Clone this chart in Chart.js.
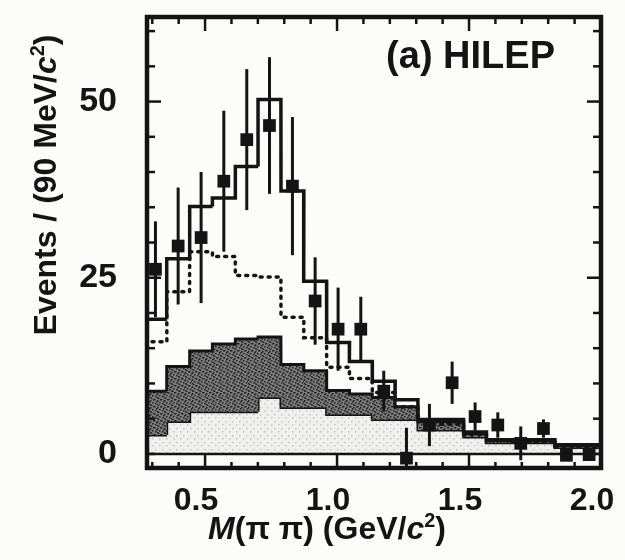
<!DOCTYPE html>
<html>
<head>
<meta charset="utf-8">
<script src="https://cdn.jsdelivr.net/npm/chart.js@4.4.1/dist/chart.umd.min.js"></script>
<style>
  html, body { margin: 0; padding: 0; background: #fcfcfb; }
</style>
</head>
<body>
<canvas id="hilep" width="625" height="560"></canvas>
<script>
// M(pi pi) bin centres, GeV/c^2
const binCentres = [0.312, 0.398, 0.485, 0.571, 0.658, 0.744, 0.831, 0.917, 1.004, 1.090,
                    1.177, 1.263, 1.350, 1.436, 1.523, 1.609, 1.696, 1.782, 1.869, 1.955];
const binHalfWidth = 0.0433;

// measured events (squares) and their errors
const dataValues = [26.2, 29.5, 30.7, 38.7, 44.6, 46.6, 38.0, 21.7, 17.7, 17.7,
                    8.9, -0.6, 4.1, 10.1, 5.3, 4.1, 1.5, 3.6, -0.2, -0.1];
const dataErrors = [6.8, 8.3, 9.3, 10.0, 10.0, 9.7, 9.8, 6.2, 5.9, 4.6,
                    2.9, 4.3, 3.0, 3.0, 2.0, 1.8, 2.4, 1.3, 0.8, 0.6];

// histograms
const fitTotal  = [19.1, 27.7, 35.1, 36.3, 40.8, 50.3, 37.3, 24.5, 15.8, 13.1,
                   10.3, 7.7, 4.9, 4.9, 3.1, 2.0, 2.0, 2.0, 1.3, 1.3];
const fitDashed = [15.9, 23.0, 28.7, 28.0, 25.3, 25.1, 19.4, 16.5, 12.3, 10.7,
                   8.7, 6.7, 4.6, 4.2, 2.8, 1.9, 1.8, 1.7, 1.1, 1.0];
const bkgUpper  = [8.9, 12.4, 14.6, 15.6, 16.3, 16.6, 12.7, 11.8, 9.0, 8.5,
                   8.0, 6.7, 4.6, 4.6, 2.9, 1.9, 1.9, 1.9, 1.2, 1.2];
const bkgLower  = [2.7, 4.6, 6.0, 6.0, 6.0, 8.0, 6.6, 6.6, 5.6, 5.6,
                   4.9, 4.9, 3.4, 3.4, 2.4, 1.6, 1.6, 1.6, 0.9, 0.9];

const xTickLabels = [0.5, 1.0, 1.5, 2.0];
const yTickLabels = [0, 25, 50];

const ink = '#141414';
const FONT = '"Liberation Sans", Arial, sans-serif';

// histogram -> step outline
function steps(values) {
  const pts = [];
  values.forEach((v, i) => {
    pts.push({x: binCentres[i] - binHalfWidth, y: v});
    pts.push({x: binCentres[i] + binHalfWidth, y: v});
  });
  return pts;
}

function stipple(base, dot, dots) {
  const c = document.createElement('canvas');
  c.width = 7; c.height = 7;
  const g = c.getContext('2d');
  g.fillStyle = base;
  g.fillRect(0, 0, 7, 7);
  g.fillStyle = dot;
  dots.forEach(d => g.fillRect(d[0], d[1], 1.5, 1.5));
  return g.createPattern(c, 'repeat');
}

const darkFill = stipple('#7c7c7c', '#222', [[0,0],[3,1],[5,3],[1,4],[4,6],[6,0],[2,2],[3,5]]);
const lightFill = stipple('#efefee', '#c4c4c4', [[1,1],[5,4]]);

function drawRich(ctx, parts, size) {
  let w = 0;
  parts.forEach(p => {
    ctx.font = (p.style || 'bold') + ' ' + (p.sup ? size * 0.62 : size) + 'px ' + FONT;
    p.w = ctx.measureText(p.t).width;
    w += p.w;
  });
  let x = -w / 2;
  parts.forEach(p => {
    ctx.font = (p.style || 'bold') + ' ' + (p.sup ? size * 0.62 : size) + 'px ' + FONT;
    ctx.fillText(p.t, x, p.sup ? -size * 0.38 : 0);
    x += p.w;
  });
}

const decorations = {
  id: 'decorations',
  afterDatasetsDraw(chart) {
    const {ctx, chartArea: a, scales: {x, y}} = chart;
    ctx.save();
    ctx.strokeStyle = ink;
    ctx.lineCap = 'butt';

    // error bars
    ctx.beginPath();
    ctx.rect(a.left, a.top, a.right - a.left, a.bottom - a.top);
    ctx.clip();
    ctx.lineWidth = 3;
    chart.getDatasetMeta(4).data.forEach((pt, i) => {
      ctx.beginPath();
      ctx.moveTo(pt.x, y.getPixelForValue(dataValues[i] + dataErrors[i]));
      ctx.lineTo(pt.x, y.getPixelForValue(dataValues[i] - dataErrors[i]));
      ctx.stroke();
    });
    ctx.restore();
    ctx.save();
    ctx.strokeStyle = ink;

    const line = (x1, y1, x2, y2) => {
      ctx.beginPath(); ctx.moveTo(x1, y1); ctx.lineTo(x2, y2); ctx.stroke();
    };

    // zero line
    const y0 = y.getPixelForValue(0);
    ctx.lineWidth = 2.5;
    line(a.left, y0, a.right, y0);

    // ticks on all four sides, pointing inwards
    ctx.lineWidth = 2.5;
    for (let k = 3; k <= 20; k++) {
      const v = k / 10;
      const px = x.getPixelForValue(v);
      const major = xTickLabels.includes(v);
      line(px, a.bottom, px, major ? y0 : a.bottom - 6);
      line(px, a.top, px, a.top + (major ? 14 : 7));
    }
    for (let v = 0; v <= 60; v += 5) {
      const py = y.getPixelForValue(v);
      const major = yTickLabels.includes(v) && v > 0;
      line(a.left, py, a.left + (major ? 14 : 8), py);
      line(a.right, py, a.right - (major ? 14 : 8), py);
    }

    // frame
    ctx.lineWidth = 4.5;
    ctx.strokeRect(a.left, a.top, a.right - a.left, a.bottom - a.top);
    ctx.restore();
  },
  afterDraw(chart) {
    const {ctx, chartArea: a} = chart;
    ctx.save();
    ctx.fillStyle = ink;
    ctx.textBaseline = 'alphabetic';

    // panel label
    ctx.font = 'bold 38px ' + FONT;
    ctx.textAlign = 'right';
    ctx.fillText('(a) HILEP', a.right - 46, a.top + 51);
    ctx.textAlign = 'left';

    // x title
    ctx.save();
    ctx.translate(327, 539);
    drawRich(ctx, [
      {t: 'M', style: 'italic bold'}, {t: '(π π) (GeV/'},
      {t: 'c', style: 'italic bold'}, {t: '2', sup: true}, {t: ')'}
    ], 32);
    ctx.restore();

    // y title
    ctx.save();
    ctx.translate(56, 185);
    ctx.rotate(-Math.PI / 2);
    drawRich(ctx, [
      {t: 'Events / (90 MeV/'}, {t: 'c', style: 'italic bold'},
      {t: '2', sup: true}, {t: ')'}
    ], 32);
    ctx.restore();
    ctx.restore();
  }
};

new Chart(document.getElementById('hilep'), {
  type: 'line',
  data: {
    datasets: [
      {
        label: 'background lower',
        data: steps(bkgLower),
        borderColor: ink, borderWidth: 3,
        backgroundColor: lightFill,
        fill: 'origin',
        pointRadius: 0, order: 5
      },
      {
        label: 'background upper',
        data: steps(bkgUpper),
        borderColor: ink, borderWidth: 3,
        backgroundColor: darkFill,
        fill: '-1',
        pointRadius: 0, order: 4
      },
      {
        label: 'dashed',
        data: steps(fitDashed),
        borderColor: ink, borderWidth: 3.5,
        borderDash: [2, 6], borderCapStyle: 'round',
        fill: false, pointRadius: 0, order: 3
      },
      {
        label: 'total',
        data: steps(fitTotal),
        borderColor: ink, borderWidth: 3.5,
        fill: false, pointRadius: 0, order: 2
      },
      {
        label: 'data',
        data: binCentres.map((c, i) => ({x: c, y: dataValues[i]})),
        showLine: false,
        pointStyle: 'rect', pointRadius: 9,
        pointBackgroundColor: ink, pointBorderColor: ink, pointBorderWidth: 0,
        order: 1
      }
    ]
  },
  options: {
    responsive: false,
    animation: false,
    devicePixelRatio: 1,
    layout: {padding: {left: 0, right: 24, top: 17, bottom: 0}},
    plugins: {legend: {display: false}, tooltip: {enabled: false}},
    elements: {line: {tension: 0}},
    scales: {
      x: {
        type: 'linear', min: 0.28, max: 2.0,
        grid: {display: false}, border: {display: false},
        afterBuildTicks: s => { s.ticks = xTickLabels.map(v => ({value: v})); },
        afterFit: s => { s.height = 92; s.paddingLeft = 0; s.paddingRight = 0; },
        ticks: {
          color: ink, padding: 6, labelOffset: -9,
          font: {family: FONT, size: 32, weight: 'bold'},
          callback: v => v.toFixed(1)
        }
      },
      y: {
        min: -2, max: 62,
        grid: {display: false}, border: {display: false},
        afterBuildTicks: s => { s.ticks = yTickLabels.map(v => ({value: v})); },
        afterFit: s => { s.width = 147; s.paddingTop = 0; s.paddingBottom = 0; },
        ticks: {
          color: ink, padding: 22,
          font: {family: FONT, size: 34, weight: 'bold'}
        }
      }
    }
  },
  plugins: [decorations]
});
</script>
</body>
</html>
